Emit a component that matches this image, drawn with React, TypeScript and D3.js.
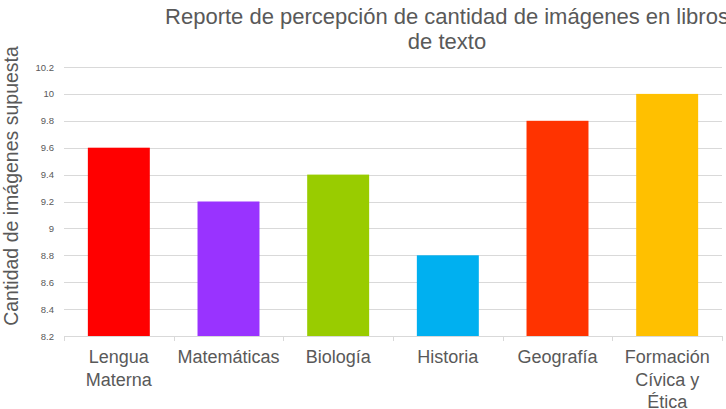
import React, { useRef, useEffect } from "react";
import * as d3 from "d3";

// Datos del gráfico
const materias: string[][] = [
  ["Lengua", "Materna"],
  ["Matemáticas"],
  ["Biología"],
  ["Historia"],
  ["Geografía"],
  ["Formación", "Cívica y", "Ética"],
];
const valores: number[] = [9.6, 9.2, 9.4, 8.8, 9.8, 10];
const colores: string[] = ["#FF0000", "#9933FF", "#99CC00", "#00B0F0", "#FF3300", "#FFC000"];
const ticksY: number[] = [8.2, 8.4, 8.6, 8.8, 9, 9.2, 9.4, 9.6, 9.8, 10, 10.2];

const App = () => {
  const svgRef = useRef<SVGSVGElement | null>(null);

  useEffect(() => {
    const svg = d3.select(svgRef.current);
    svg.selectAll("*").remove();

    const W = 726;
    const H = 409;
    const margin = { top: 67, right: 4, bottom: 73, left: 64 };
    const width = W - margin.left - margin.right;
    const height = H - margin.top - margin.bottom;
    const font = "'Liberation Sans', Arial, sans-serif";
    const gris = "#595959";

    svg.attr("width", W).attr("height", H);
    svg.append("rect").attr("width", W).attr("height", H).attr("fill", "#fff");

    const chart = svg.append("g").attr("transform", `translate(${margin.left},${margin.top})`);

    const keys = materias.map((d) => d.join(" "));
    const x = d3.scaleBand<string>().domain(keys).range([0, width]).paddingInner(0.435).paddingOuter(0.2175);
    const xTicks = d3.scaleBand<string>().domain(keys).range([0, width]);
    const y = d3.scaleLinear().domain([8.2, 10.2]).range([height, 0]);

    // Líneas de cuadrícula
    chart.selectAll(".grid")
      .data(ticksY.slice(1))
      .enter()
      .append("line")
      .attr("x1", 0)
      .attr("x2", width)
      .attr("y1", (d) => Math.round(y(d)) + 0.5)
      .attr("y2", (d) => Math.round(y(d)) + 0.5)
      .attr("stroke", "#d9d9d9")
      .attr("stroke-width", 1);

    // Etiquetas eje Y
    chart.selectAll(".ylab")
      .data(ticksY)
      .enter()
      .append("text")
      .attr("x", -10)
      .attr("y", (d) => y(d) + 3.5)
      .attr("text-anchor", "end")
      .attr("font-family", font)
      .attr("font-size", 9.5)
      .attr("fill", gris)
      .text((d) => d3.format("~g")(d));

    // Barras
    chart.selectAll(".bar")
      .data(valores)
      .enter()
      .append("rect")
      .attr("x", (d, i) => x(keys[i]) as number)
      .attr("y", (d) => y(d))
      .attr("width", x.bandwidth())
      .attr("height", (d) => height - y(d))
      .attr("fill", (d, i) => colores[i]);

    // Eje X
    chart.append("line")
      .attr("x1", 0)
      .attr("x2", width)
      .attr("y1", height + 0.5)
      .attr("y2", height + 0.5)
      .attr("stroke", "#d9d9d9");

    const tickPos = keys.map((k) => xTicks(k) as number).concat([width]);
    chart.selectAll(".xtick")
      .data(tickPos)
      .enter()
      .append("line")
      .attr("x1", (d) => Math.round(d) + 0.5)
      .attr("x2", (d) => Math.round(d) + 0.5)
      .attr("y1", height)
      .attr("y2", height + 5)
      .attr("stroke", "#d9d9d9");

    // Etiquetas categorías
    materias.forEach((lineas, i) => {
      const cx = (xTicks(keys[i]) as number) + xTicks.bandwidth() / 2;
      const t = chart.append("text")
        .attr("x", cx)
        .attr("y", height + 27)
        .attr("text-anchor", "middle")
        .attr("font-family", font)
        .attr("font-size", 18)
        .attr("fill", gris);
      lineas.forEach((l, j) => {
        t.append("tspan")
          .attr("x", cx)
          .attr("dy", j === 0 ? 0 : 22.5)
          .text(l);
      });
    });

    // Título
    const titulo = svg.append("text")
      .attr("text-anchor", "middle")
      .attr("font-family", font)
      .attr("font-size", 22)
      .attr("fill", gris);
    titulo.append("tspan").attr("x", 447).attr("y", 24).text("Reporte de percepción de cantidad de imágenes en libros");
    titulo.append("tspan").attr("x", 447).attr("y", 49).text("de texto");

    // Título eje Y
    svg.append("text")
      .attr("transform", "rotate(-90)")
      .attr("x", -186)
      .attr("y", 18)
      .attr("text-anchor", "middle")
      .attr("font-family", font)
      .attr("font-size", 19.5)
      .attr("fill", gris)
      .text("Cantidad de imágenes supuesta");
  }, []);

  return (
    <div style={{ position: "absolute", left: 0, top: 0, width: 726, height: 409, overflow: "hidden" }}>
      <svg ref={svgRef} style={{ display: "block" }}></svg>
    </div>
  );
};

export default App;
